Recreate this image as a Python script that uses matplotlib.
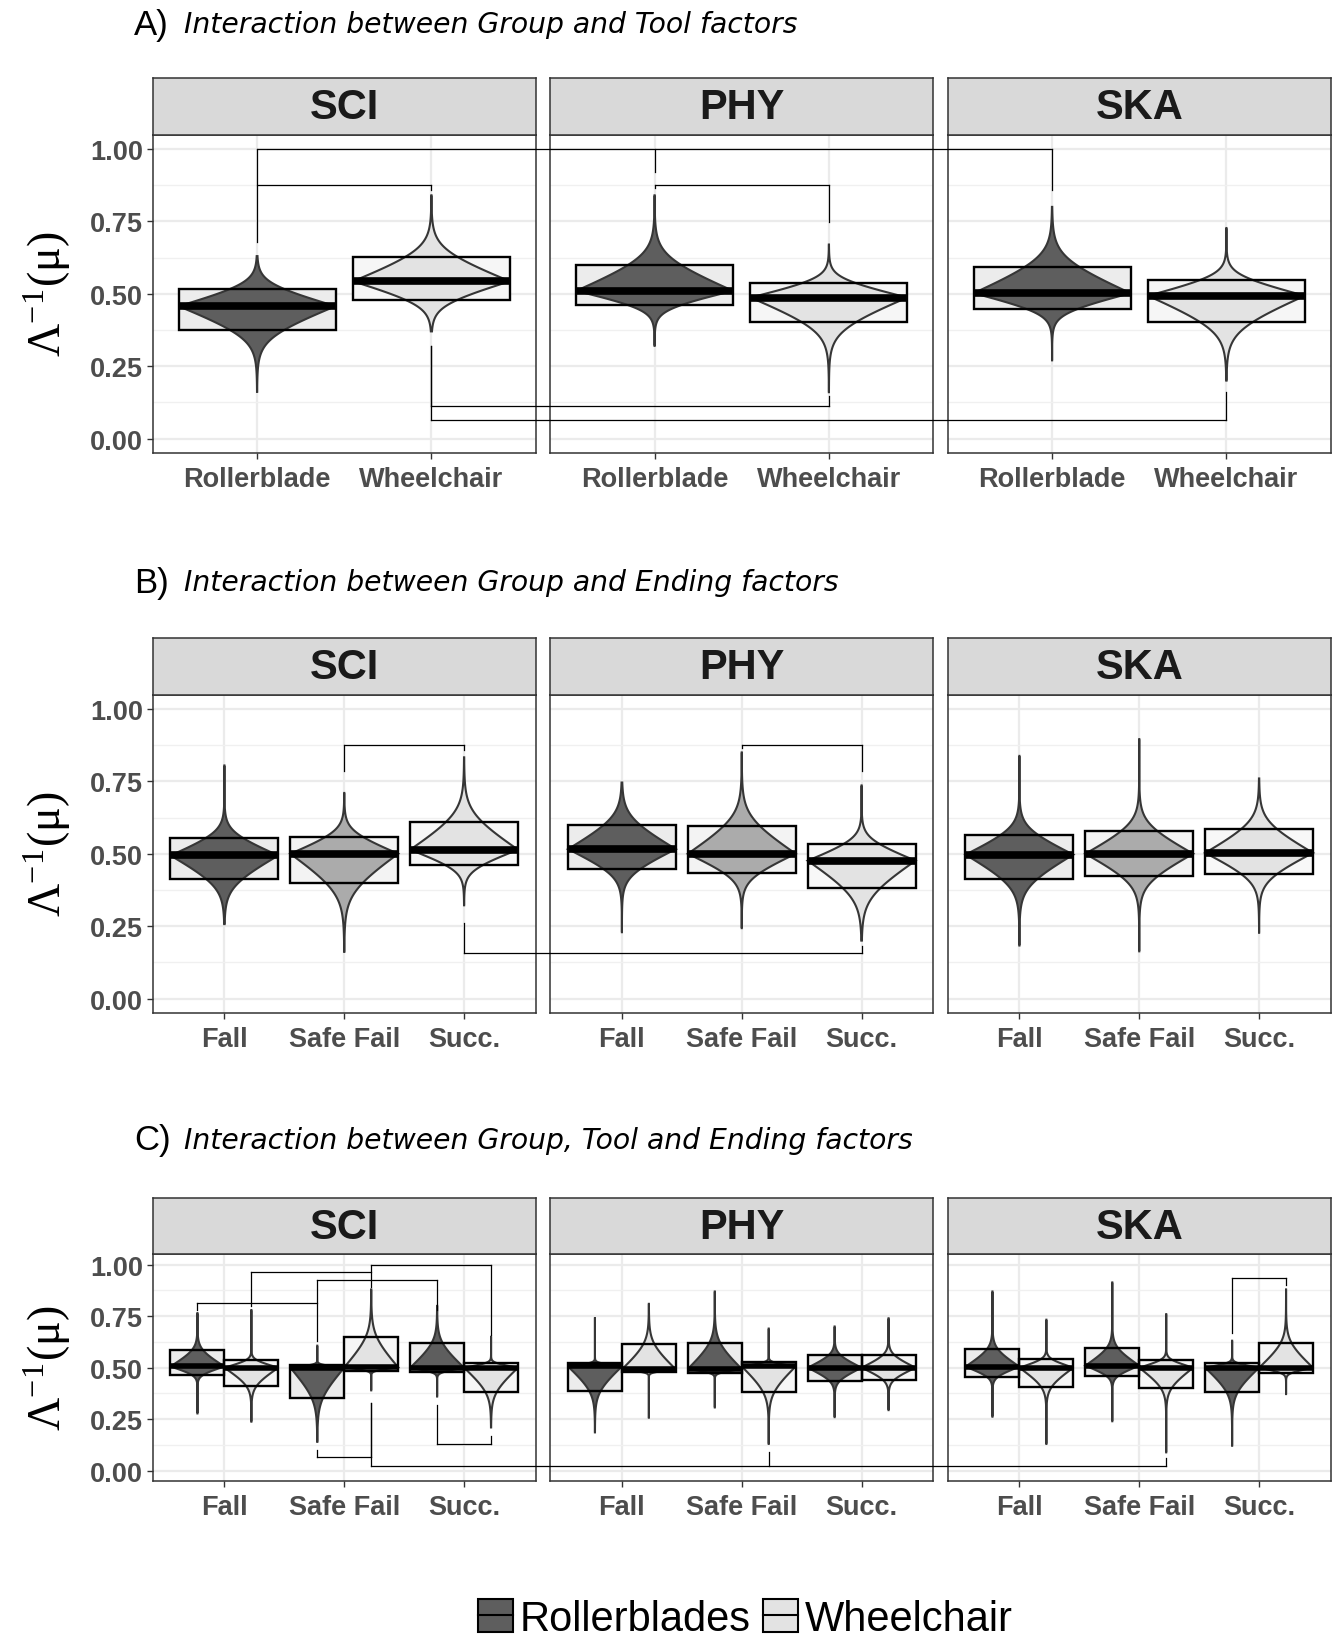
import numpy as np
import matplotlib
matplotlib.use('Agg')
import matplotlib.pyplot as plt
from matplotlib.patches import Rectangle, Polygon, Patch
from matplotlib.lines import Line2D

plt.rcParams['font.family'] = ['Liberation Sans', 'DejaVu Sans']
plt.rcParams['mathtext.fontset'] = 'stix'

groups = ['SCI', 'PHY', 'SKA']
tools = ['Rollerblade', 'Wheelchair']
endings = ['Fall', 'Safe Fail', 'Succ.']

# panel A : [group][tool]
a_med = [[0.457, 0.543], [0.510, 0.487], [0.502, 0.493]]
a_lo = [[0.374, 0.480], [0.461, 0.401], [0.449, 0.403]]
a_hi = [[0.517, 0.626], [0.599, 0.537], [0.594, 0.547]]
a_min = [[0.161, 0.370], [0.320, 0.160], [0.270, 0.200]]
a_max = [[0.630, 0.840], [0.840, 0.670], [0.800, 0.727]]

# panel B : [group][ending]
b_med = [[0.494, 0.500, 0.514], [0.516, 0.500, 0.476], [0.497, 0.500, 0.503]]
b_lo = [[0.413, 0.399, 0.460], [0.447, 0.434, 0.380], [0.414, 0.422, 0.431]]
b_hi = [[0.555, 0.559, 0.609], [0.599, 0.595, 0.533], [0.566, 0.578, 0.584]]
b_min = [[0.257, 0.161, 0.322], [0.229, 0.243, 0.200], [0.183, 0.163, 0.227]]
b_max = [[0.805, 0.710, 0.833], [0.746, 0.850, 0.736], [0.838, 0.896, 0.760]]

# panel C : [group][ending][tool]
c_med = [[[0.506, 0.500], [0.500, 0.502], [0.500, 0.500]],
         [[0.506, 0.492], [0.494, 0.506], [0.500, 0.500]],
         [[0.505, 0.500], [0.510, 0.500], [0.500, 0.500]]]
c_lo = [[[0.464, 0.413], [0.351, 0.485], [0.477, 0.380]],
        [[0.385, 0.477], [0.474, 0.380], [0.437, 0.440]],
        [[0.455, 0.408], [0.458, 0.401], [0.380, 0.474]]]
c_hi = [[[0.586, 0.537], [0.515, 0.650], [0.620, 0.523]],
        [[0.523, 0.615], [0.620, 0.526], [0.563, 0.563]],
        [[0.590, 0.542], [0.597, 0.539], [0.523, 0.620]]]
c_min = [[[0.278, 0.238], [0.140, 0.390], [0.360, 0.210]],
         [[0.186, 0.254], [0.307, 0.130], [0.260, 0.294]],
         [[0.262, 0.130], [0.240, 0.089], [0.121, 0.372]]]
c_max = [[[0.765, 0.780], [0.607, 0.880], [0.800, 0.650]],
         [[0.744, 0.810], [0.870, 0.690], [0.700, 0.740]],
         [[0.870, 0.733], [0.914, 0.760], [0.631, 0.880]]]

# significance brackets: (bar height, legs (group, category, end of leg))
a_brackets = [(1.000, [(0, 0, 0.678), (1, 0, 0.920), (2, 0, 0.860)]),
              (0.877, [(0, 0, 0.877), (0, 1, 0.857)]),
              (0.877, [(1, 0, 0.865), (1, 1, 0.749)]),
              (0.113, [(0, 1, 0.320), (1, 1, 0.148)]),
              (0.064, [(0, 1, 0.320), (2, 1, 0.160)])]
b_brackets = [(0.877, [(0, 1, 0.785), (0, 2, 0.860)]),
              (0.877, [(1, 1, 0.865), (1, 2, 0.786)]),
              (0.158, [(0, 2, 0.260), (1, 2, 0.182)])]
# legs (group, ending, tool, end of leg)
c_brackets = [(1.000, [(0, 1, 1, 0.890), (0, 2, 1, 0.660)]),
              (0.963, [(0, 0, 1, 0.800), (0, 1, 1, 0.963)]),
              (0.926, [(0, 1, 0, 0.630), (0, 2, 0, 0.780)]),
              (0.816, [(0, 0, 0, 0.780), (0, 1, 0, 0.816)]),
              (0.128, [(0, 2, 0, 0.320), (0, 2, 1, 0.170)]),
              (0.068, [(0, 1, 0, 0.100), (0, 1, 1, 0.330)]),
              (0.024, [(0, 1, 1, 0.330), (1, 1, 1, 0.090), (2, 1, 1, 0.060)]),
              (0.935, [(2, 2, 0, 0.670), (2, 2, 1, 0.900)])]

tool_violin = ['#5e5e5e', '#e3e3e3']
tool_box = ['#ececec', '#f6f6f6']
end_violin = ['#5e5e5e', '#ababab', '#e3e3e3']
end_box = ['#ececec', '#f3f3f3', '#f8f8f8']

W_FIG, H_FIG = 1338, 1640
fig = plt.figure(figsize=(W_FIG / 100, H_FIG / 100), dpi=100)


def rect(x0, y0, x1, y1):
    return [x0 / W_FIG, 1 - y1 / H_FIG, (x1 - x0) / W_FIG, (y1 - y0) / H_FIG]


col_x = [(152.5, 536), (550, 933.5), (947.5, 1331)]
rows = [(78.5, 135.5, 454), (639, 695.5, 1014), (1199, 1255.4, 1482)]
titles = [('A)', 'Interaction between Group and Tool factors', 25),
          ('B)', 'Interaction between Group and Ending factors', 583),
          ('C)', 'Interaction between Group, Tool and Ending factors', 1141)]


def profile(d, L, c=0.3):
    # linear core that bends smoothly into a thin needle
    u = d / L
    return c * np.log1p(np.exp((1 - u) / c)) / (c * np.log1p(np.exp(1 / c)))


def pirate(ax, x, half, med, lo, hi, vmin, vmax, vcol, bcol, mlw, k):
    ax.add_patch(Rectangle((x - half, lo), 2 * half, hi - lo, fc=bcol, ec='none', zorder=2))
    lu = k * (hi - med)
    ld = k * (med - lo)
    yu = np.linspace(med, vmax, 200)
    yd = np.linspace(vmin, med, 200)
    wu = half * profile(yu - med, lu)
    wd = half * profile(med - yd, ld)
    ys = np.concatenate([yd, yu])
    ws = np.concatenate([wd, wu])
    pts = np.concatenate([np.column_stack([x + ws, ys]), np.column_stack([x - ws, ys])[::-1]])
    ax.add_patch(Polygon(pts, closed=True, fc=vcol, ec='#363636', lw=1.5, zorder=3))
    ax.add_patch(Rectangle((x - half, lo), 2 * half, hi - lo, fill=False, ec='black', lw=1.7, zorder=4))
    ax.plot([x - half, x + half], [med, med], color='black', lw=mlw, solid_capstyle='butt', zorder=5)


def make_row(r, labels):
    st, pt, pb = rows[r]
    axes = []
    for g in range(3):
        x0, x1 = col_x[g]
        ax = fig.add_axes(rect(x0, pt, x1, pb))
        ax.set_xlim(0.4, len(labels) + 0.6)
        ax.set_ylim(-0.05, 1.05)
        ax.set_xticks(np.arange(1, len(labels) + 1))
        ax.set_xticklabels(labels)
        ax.set_yticks([0, 0.25, 0.5, 0.75, 1.0])
        ax.set_yticks([0.125, 0.375, 0.625, 0.875], minor=True)
        ax.set_yticklabels(['0.00', '0.25', '0.50', '0.75', '1.00'])
        ax.grid(which='major', color='#ebebeb', lw=1.6)
        ax.grid(which='minor', axis='y', color='#f0f0f0', lw=1.0)
        ax.set_axisbelow(True)
        ax.tick_params(which='major', length=4.3, width=1.0, color='#333333', labelsize=19.5,
                       labelcolor='#4d4d4d', pad=2.5)
        ax.tick_params(axis='x', pad=5)
        ax.tick_params(which='minor', length=0)
        for lab in ax.get_xticklabels() + ax.get_yticklabels():
            lab.set_fontweight('bold')
        if g > 0:
            ax.tick_params(axis='y', left=False, labelleft=False)
        for s in ax.spines.values():
            s.set_color('#333333')
            s.set_linewidth(1.1)
        sax = fig.add_axes(rect(x0, st, x1, pt))
        sax.set_facecolor('#d9d9d9')
        sax.set_xticks([])
        sax.set_yticks([])
        for s in sax.spines.values():
            s.set_color('#333333')
            s.set_linewidth(1.1)
        sax.text(0.5, 0.48, groups[g], transform=sax.transAxes, ha='center', va='center',
                 fontsize=30, fontweight='bold', color='#1a1a1a')
        axes.append(ax)
    lab, txt, ty = titles[r]
    fig.text(134 / W_FIG, 1 - ty / H_FIG, lab, fontsize=25, va='center', ha='left')
    fig.text(184 / W_FIG, 1 - ty / H_FIG, txt, fontsize=20.3, style='italic', family='DejaVu Sans',
             va='center', ha='left')
    fig.text(47 / W_FIG, 1 - (pt + pb) / 2 / H_FIG, 'Λ$^{\\mathregular{−1}}$(μ)', rotation=90,
             fontsize=33, family='Liberation Serif', ha='center', va='center')
    return axes


ax_a = make_row(0, tools)
ax_b = make_row(1, endings)
ax_c = make_row(2, endings)

for g in range(3):
    for t in range(2):
        pirate(ax_a[g], t + 1, 0.45, a_med[g][t], a_lo[g][t], a_hi[g][t], a_min[g][t], a_max[g][t],
               tool_violin[t], tool_box[t], 5.5, 1.3)
    for e in range(3):
        pirate(ax_b[g], e + 1, 0.45, b_med[g][e], b_lo[g][e], b_hi[g][e], b_min[g][e], b_max[g][e],
               end_violin[e], end_box[e], 5.5, 1.3)
        for t in range(2):
            pirate(ax_c[g], e + 1 + (t - 0.5) * 0.45, 0.225, c_med[g][e][t], c_lo[g][e][t],
                   c_hi[g][e][t], c_min[g][e][t], c_max[g][e][t], tool_violin[t], tool_box[t], 4.0, 1.0)

inv = fig.transFigure.inverted()


def fpt(ax, x, y):
    return inv.transform(ax.transData.transform((x, y)))


def bracket(axes, ybar, legs):
    tops = [fpt(axes[g], x, ybar) for g, x, _ in legs]
    ends = [fpt(axes[g], x, ye) for g, x, ye in legs]
    xs = [p[0] for p in tops]
    fig.add_artist(Line2D([min(xs), max(xs)], [tops[0][1], tops[0][1]], color='black', lw=0.9, zorder=10))
    for p, q in zip(tops, ends):
        fig.add_artist(Line2D([p[0], q[0]], [p[1], q[1]], color='black', lw=0.9, zorder=10))


for ybar, legs in a_brackets:
    bracket(ax_a, ybar, [(g, c + 1, ye) for g, c, ye in legs])
for ybar, legs in b_brackets:
    bracket(ax_b, ybar, [(g, c + 1, ye) for g, c, ye in legs])
for ybar, legs in c_brackets:
    bracket(ax_c, ybar, [(g, e + 1 + (t - 0.5) * 0.45, ye) for g, e, t, ye in legs])

handles = [(Patch(fc=tool_violin[0], ec='black', lw=1.5), Line2D([], [], color='black', lw=1.5)),
           (Patch(fc=tool_violin[1], ec='black', lw=1.5), Line2D([], [], color='black', lw=1.5))]
fig.legend(handles, ['Rollerblades', 'Wheelchair'], loc='center', bbox_to_anchor=(745 / W_FIG, 1 - 1620 / H_FIG),
           ncol=2, frameon=False, fontsize=30, handlelength=0.85, handleheight=0.85,
           handletextpad=0.15, columnspacing=0.3, borderpad=0)

fig.savefig('out.png', dpi=100)
